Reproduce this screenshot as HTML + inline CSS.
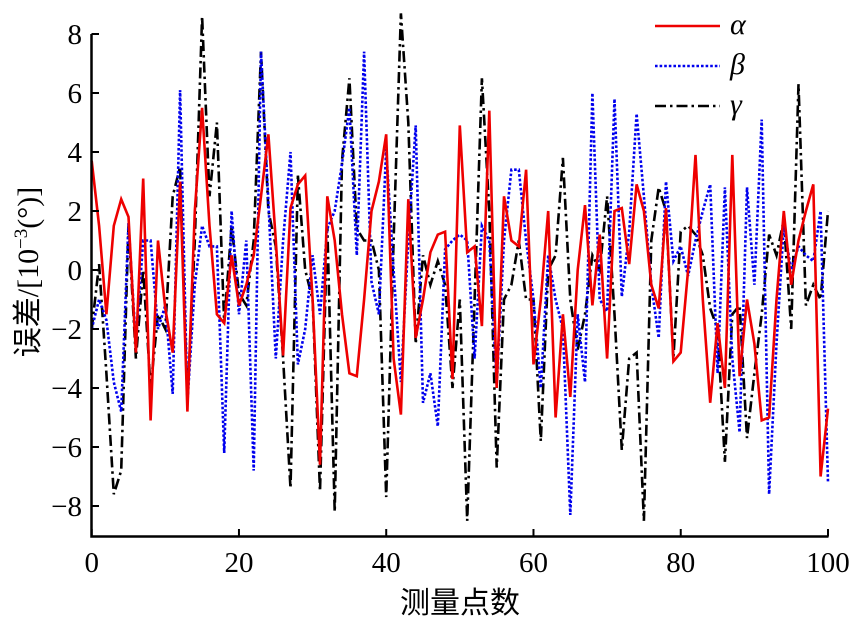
<!DOCTYPE html>
<html><head><meta charset="utf-8"><style>
html,body{margin:0;padding:0;background:#fff;}
svg{display:block;}
</style></head><body>
<svg id="chart" width="850" height="624" viewBox="0 0 850 624" xmlns="http://www.w3.org/2000/svg">
<g id="series"></g>
<g id="axes"></g>
<g id="legend"></g>
</svg>
<script>
const alphaVals=[3.7,1.5,-1.5,1.5,2.4,1.8,-2.8,3.1,-5.1,1,-1.3,-2.8,3,-4.8,2,5.5,1.5,-1.5,-1.8,0.5,-1.2,-0.5,0.5,2.5,4.6,1,
-2.9,2.1,2.9,3.2,-1,-6.6,2.5,1,-1.5,-3.5,-3.6,-1,2,3,4.6,
-3,-4.9,2.4,-2.3,-1,0.6,1.2,1.3,-3.7,4.9,
0.6,0.8,-1.9,5.4,-4,2.5,1,0.8,3.4,-3.2,
-1,2,-5,-1.5,-4.3,0,2.2,-1.2,1.2,-3,
2,2.1,0.2,2.9,2,-0.5,-1.3,2.1,-3.1,-2.8,
0,3.9,-1,-4.5,-1.8,-4,3.9,-3.6,-1,-2.5,
-5.1,-5,-1,2,-0.5,1,2,2.9,-7,-4.7];
const betaVals=[-2,-1,-1.7,-3.8,-4.8,1.6,-2.5,1,1,-2,-1.2,-4.2,6.1,-4.5,-0.5,1.5,0.8,0.8,-6.2,2,-1.5,1,-6.8,7.4,
2.3,-3,1,4,-3.2,-2,0.5,-1.5,1.4,2,3.6,5.5,0.5,7.4,-0.4,-1.5,4.1,0,-3.8,1,4.9,-4.5,-3.5,-5.3,0.7,1,1.2,
1,-3,1.5,1,-3.9,1,3.4,3.4,1,-1,-4,0.5,-1,-2,-8.3,-1.5,-3.8,6,-1,-1.4,5.8,-0.9,1.3,5.3,2.5,
-0.5,-2.3,3,0.3,0.8,-0.2,1,2,2.9,-3.5,2.8,-3,-5.5,2.8,-0.5,5.1,-7.6,-2.5,1.5,0,0.8,0.5,0.3,2,-7.2];
const gammaVals=[-2,0.2,-3.5,-7.6,-6.8,1.5,-3,0,-4,-1.5,-2,2.5,3.5,-4.5,1,8.6,2.5,5,-1.8,1.5,-0.8,-1.2,1,
7.4,2,0.8,-3,-7.4,3.2,0,-1,-7.5,1.5,-8.2,3.7,6.5,1.4,1,1,0,-7.7,1,8.7,5,-2.5,0.5,-0.5,0.3,-0.5,-4,-1,
-8.5,-1,6.5,2,-6.7,-1,-0.5,1,-1,-1,-5.8,0,0.5,3.8,-1,-2.7,-1.5,0.5,0,2.5,-1.5,-6.1,-3,-2.8,-8.5,
1,2.8,2,-3,1.3,1.5,1.2,0.5,-1.3,-2,-6.5,-1.5,-1.2,-5.7,-3.5,-1.5,1.2,0.5,1.7,-2,6.3,-1.2,-0.5,-1,2];
const xTicks=[0,20,40,60,80,100];
const yTicks=[-8,-6,-4,-2,0,2,4,6,8];

const NS='http://www.w3.org/2000/svg';
function X(i){return 91.7+(i/100)*736.3;}
function Y(v){return 270-29.5*v;}
function mk(tag,attrs,parent){const e=document.createElementNS(NS,tag);for(const k in attrs)e.setAttribute(k,attrs[k]);parent.appendChild(e);return e;}
const sg=document.getElementById('series'),ag=document.getElementById('axes'),lg=document.getElementById('legend');
function drawSeries(vals,color,dash,name){
  const d=vals.map((v,i)=>(i?'L':'M')+X(i).toFixed(1)+','+Y(v).toFixed(1)).join(' ');
  const p=mk('path',{d:d,fill:'none',stroke:color,'stroke-width':2.6,'stroke-dasharray':dash,'stroke-linejoin':'miter'},sg);
  
  
}
drawSeries(gammaVals,'#000','11,4,2.5,4','series-gamma');
drawSeries(betaVals,'#0000ee','2.6,2','series-beta');
drawSeries(alphaVals,'#ee0000','none','series-alpha');

const la=mk('path',{d:'M91.5,34 V536.5 H828.5',fill:'none',stroke:'#000','stroke-width':2.5},ag);


yTicks.forEach(v=>{
  const t=mk('line',{x1:91.5,x2:99,y1:Y(v),y2:Y(v),stroke:'#000','stroke-width':2},ag);
  
  
  const tx=mk('text',{x:82,y:Y(v)+10,'text-anchor':'end','font-family':'Liberation Serif, serif','font-size':29},ag);
  tx.textContent=v<0?'\u2212'+(-v):String(v);
  
  
});
xTicks.forEach(v=>{
  const t=mk('line',{x1:X(v),x2:X(v),y1:536.5,y2:529,stroke:'#000','stroke-width':2},ag);
  
  
  const tx=mk('text',{x:X(v),y:572,'text-anchor':'middle','font-family':'Liberation Serif, serif','font-size':29},ag);
  tx.textContent=String(v);
  
  
});
const xt=mk('text',{x:460,y:613,'text-anchor':'middle','font-family':'Noto Sans CJK SC, sans-serif','font-size':30},ag);
xt.textContent='测量点数';


const yt=mk('text',{x:0,y:0,'text-anchor':'middle','font-family':'Liberation Serif, Noto Sans CJK SC, sans-serif','font-size':30,transform:'translate(38,272) rotate(-90)'},ag);
yt.innerHTML='误差/[10<tspan font-size="19" dy="-11">\u22123</tspan><tspan dy="11">(°)]</tspan>';



[['#ee0000','none','α',26],['#0000ee','2.6,2','β',66],['#000','11,4,2.5,4','γ',106]].forEach(([c,dash,lab,y],k)=>{
  const l=mk('line',{x1:655,x2:720,y1:y,y2:y,stroke:c,'stroke-width':2.6,'stroke-dasharray':dash},lg);
  
  
  const t=mk('text',{x:730,y:y+8,'font-family':'Liberation Serif, serif','font-style':'italic','font-size':30},lg);
  t.textContent=lab;
  
  
});
</script>
</body></html>
